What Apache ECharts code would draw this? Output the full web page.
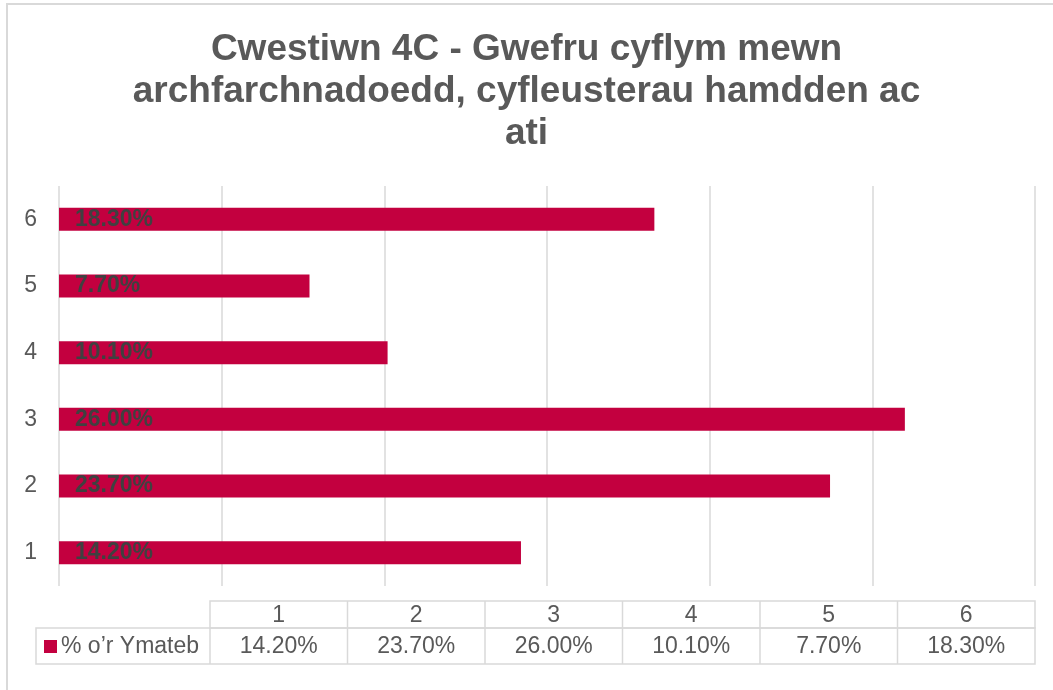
<!DOCTYPE html>
<html>
<head>
<meta charset="utf-8">
<script src="https://cdn.jsdelivr.net/npm/echarts@6/dist/echarts.min.js"></script>
<style>html,body{margin:0;padding:0;background:#fff}#c{width:1053px;height:690px}</style>
</head>
<body>
<div id="c"></div>
<script>
const categories = ['1', '2', '3', '4', '5', '6'];
const values = [14.2, 23.7, 26.0, 10.1, 7.7, 18.3];
const seriesName = '% o\u2019r Ymateb';
const titleText = 'Cwestiwn 4C - Gwefru cyflym mewn\narchfarchnadoedd, cyfleusterau hamdden ac\nati';

const chart = echarts.init(document.getElementById('c'));
const fmt = v => v.toFixed(2) + '%';
const BAR = '#C3003F';
const GRID = '#d9d9d9';
const TXT = '#595959';
const FONT = '"Liberation Sans", Arial, sans-serif';

// data table geometry
const tLeft = 210, tRight = 1035, hTop = 601, hBot = 628, rBot = 664, lblLeft = 36;
const colW = (tRight - tLeft) / categories.length;
const g = [];
g.push({type:'rect', shape:{x:7, y:4, width:1100, height:800}, style:{fill:'none', stroke:GRID, lineWidth:2}, silent:true});
g.push({type:'rect', shape:{x:tLeft, y:hTop, width:tRight-tLeft, height:hBot-hTop}, style:{fill:'none', stroke:GRID, lineWidth:1.5}});
g.push({type:'rect', shape:{x:lblLeft, y:hBot, width:tRight-lblLeft, height:rBot-hBot}, style:{fill:'none', stroke:GRID, lineWidth:1.5}});
g.push({type:'line', shape:{x1:tLeft, y1:hBot, x2:tLeft, y2:rBot}, style:{stroke:GRID, lineWidth:1.5}});
for (let i = 1; i < categories.length; i++) {
  const x = tLeft + colW * i;
  g.push({type:'line', shape:{x1:x, y1:hTop, x2:x, y2:rBot}, style:{stroke:GRID, lineWidth:1.5}});
}
categories.forEach((c, i) => {
  const cx = tLeft + colW * (i + 0.5);
  g.push({type:'text', x:cx, y:(hTop+hBot)/2+1, style:{text:c, fill:TXT, font:'23px ' + FONT, align:'center', verticalAlign:'middle'}});
  g.push({type:'text', x:cx, y:(hBot+rBot)/2+1, style:{text:fmt(values[i]), fill:TXT, font:'23px ' + FONT, align:'center', verticalAlign:'middle'}});
});
g.push({type:'rect', shape:{x:44, y:640, width:13, height:13}, style:{fill:BAR}});
g.push({type:'text', x:61, y:(hBot+rBot)/2+1, style:{text:seriesName, fill:TXT, font:'23px ' + FONT, align:'left', verticalAlign:'middle'}});

chart.setOption({
  animation: false,
  backgroundColor: '#fff',
  title: {
    text: titleText,
    left: 'center',
    top: 24,
    textStyle: {fontFamily: FONT, fontWeight: 'bold', fontSize: 37, color: TXT, lineHeight: 42}
  },
  grid: {left: 59, right: 18, top: 186, bottom: 104, containLabel: false},
  xAxis: {
    type: 'value', min: 0, max: 30, interval: 5,
    axisLabel: {show: false},
    axisLine: {show: false}, axisTick: {show: false},
    splitLine: {show: true, lineStyle: {color: GRID, width: 1.5}}
  },
  yAxis: {
    type: 'category', data: categories,
    axisLine: {show: false}, axisTick: {show: false},
    axisLabel: {color: TXT, fontSize: 23, margin: 22, fontFamily: FONT}
  },
  series: [{
    type: 'bar', name: seriesName, data: values, barWidth: 23,
    itemStyle: {color: BAR},
    label: {show: true, position: 'insideLeft', distance: 16, formatter: p => fmt(p.value), color: '#404040', fontWeight: 'bold', fontSize: 23, fontFamily: FONT}
  }],
  graphic: g
});
</script>
</body>
</html>
